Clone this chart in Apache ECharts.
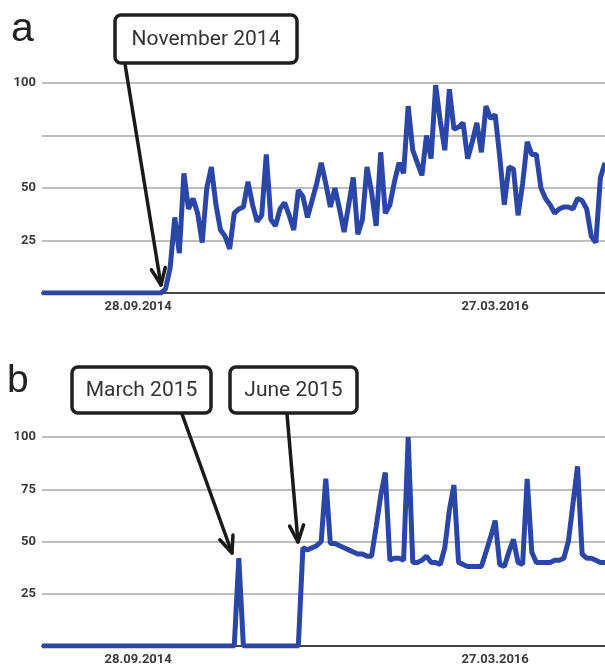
<!DOCTYPE html>
<html>
<head>
<meta charset="utf-8">
<script src="https://cdn.jsdelivr.net/npm/echarts@6/dist/echarts.min.js"></script>
<style>html,body{margin:0;padding:0;background:#fff}#c{width:605px;height:666px}</style>
</head>
<body>
<div id="c"></div>
<script>
// Weekly observations, first week 04.05.2014
var startDate = '2014-05-04';
var tickLabels = ['28.09.2014', '27.03.2016'];
var yTicksA = ['25', '50', '100'];
var yTicksB = ['25', '50', '75', '100'];

var seriesA = [
  0,0,0,0,0,0,0,0,0,0, 0,0,0,0,0,0,0,0,0,0, 0,0,0,0,0,0,0,
  2,12,36,19,57,40,45,38,24,50,60,42,30,27,21,38,40,41,53,42,34,37,66,35,32,40,43,37,30,49,46,36,
  44,52,62,52,41,50,40,29,42,55,28,35,60,48,32,67,38,42,53,62,57,89,68,62,56,75,64,99,82,68,97,78,79,81,64,72,81,67,89,83,85,
  65,42,60,59,37,52,72,66,66,50,45,42,38,40,41,41,40,45,44,40,27,24,55,62
];
var seriesB = [
  0,0,0,0,0,0,0,0,0,0, 0,0,0,0,0,0,0,0,0,0, 0,0,0,0,0,0,0,0,0,0, 0,0,0,0,0,0,0,0,0,0, 0,0,0,
  42,0,0,0,0,0,0,0,0,0,0,0,0,0,
  47,46,47,48,50,80,49,49,48,47,46,45,44,44,43,43,57,72,83,41,42,42,41,100,40,40,41,43,40,40,39,47,65,77,40,39,38,38,38,38,45,52,60,
  39,38,45,51,40,39,80,45,40,40,40,40,41,41,42,50,68,86,44,42,42,41,40,40
];

function fmt(d){
  var dd = ('0'+d.getUTCDate()).slice(-2), mm = ('0'+(d.getUTCMonth()+1)).slice(-2);
  return dd + '.' + mm + '.' + d.getUTCFullYear();
}
var categories = [];
var t0 = Date.parse(startDate + 'T00:00:00Z');
for (var i = 0; i < seriesA.length; i++) categories.push(fmt(new Date(t0 + i*7*86400000)));

var LINE = '#2a46a6';
var labelFont = {fontFamily:'Roboto', fontSize:13, fontWeight:'bold', color:'#3a3a3a'};

function xAxis(gi){
  return {
    type:'category', gridIndex:gi, data:categories, boundaryGap:false,
    axisLine:{lineStyle:{color:'#444', width:2}},
    axisTick:{show:false},
    axisLabel:Object.assign({
      interval:function(idx, val){ return tickLabels.indexOf(val) >= 0; },
      margin:7
    }, labelFont),
    splitLine:{show:false}
  };
}
function yAxis(gi, ticks){
  return {
    type:'value', gridIndex:gi, min:0, max:100, interval:25,
    axisLine:{show:false}, axisTick:{show:false},
    axisLabel:Object.assign({
      margin:6,
      formatter:function(v){ return ticks.indexOf(String(v)) >= 0 ? String(v) : ''; }
    }, labelFont),
    splitLine:{lineStyle:{color:'#a8a8a8', width:1.5}}
  };
}

function arrow(x1,y1,x2,y2){
  var ang = Math.atan2(y2-y1, x2-x1), L = 18, a = 0.4;
  var p1 = [x2 - L*Math.cos(ang-a), y2 - L*Math.sin(ang-a)];
  var p2 = [x2 - L*Math.cos(ang+a), y2 - L*Math.sin(ang+a)];
  var st = {stroke:'#1a1a1a', lineWidth:3.5, lineCap:'round', lineJoin:'round', fill:null};
  return [
    {type:'line', shape:{x1:x1,y1:y1,x2:x2,y2:y2}, style:st, z:100},
    {type:'polyline', shape:{points:[p1,[x2,y2],p2]}, style:st, z:100}
  ];
}
function box(x,y,w,h,text){
  return [
    {type:'rect', shape:{x:x,y:y,width:w,height:h,r:6}, style:{fill:'#fff', stroke:'#1f1f1f', lineWidth:3.5}, z:100},
    {type:'text', x:x+w/2, y:y+h/2+1, style:{text:text, fontFamily:'Roboto', fontSize:21, fill:'#333', align:'center', verticalAlign:'middle'}, z:101}
  ];
}

var graphics = [].concat(
  [{type:'text', x:11, y:50, style:{text:'a', fontFamily:'Liberation Sans', fontSize:41, fill:'#222', align:'left', verticalAlign:'bottom'}, z:100},
   {type:'text', x:7, y:401, style:{text:'b', fontFamily:'Liberation Sans', fontSize:39, fill:'#222', align:'left', verticalAlign:'bottom'}, z:100}],
  arrow(125,64,161,285),
  box(115,15,182,48,'November 2014'),
  arrow(182,414,232,553),
  box(72,367,139,46,'March 2015'),
  arrow(287,414,298,542),
  box(230,367,127,46,'June 2015')
);

var chart = echarts.init(document.getElementById('c'), null, {renderer:'canvas'});
chart.setOption({
  animation:false,
  backgroundColor:'#fff',
  grid:[
    {left:42, top:83, width:563, height:210},
    {left:42, top:437, width:563, height:211}
  ],
  xAxis:[xAxis(0), xAxis(1)],
  yAxis:[yAxis(0, yTicksA), yAxis(1, yTicksB)],
  series:[
    {type:'line', xAxisIndex:0, yAxisIndex:0, data:seriesA, showSymbol:false, lineStyle:{color:LINE, width:5}, itemStyle:{color:LINE}, z:5},
    {type:'line', xAxisIndex:1, yAxisIndex:1, data:seriesB, showSymbol:false, lineStyle:{color:LINE, width:5}, itemStyle:{color:LINE}, z:5}
  ],
  graphic:graphics
});
</script>
</body>
</html>
